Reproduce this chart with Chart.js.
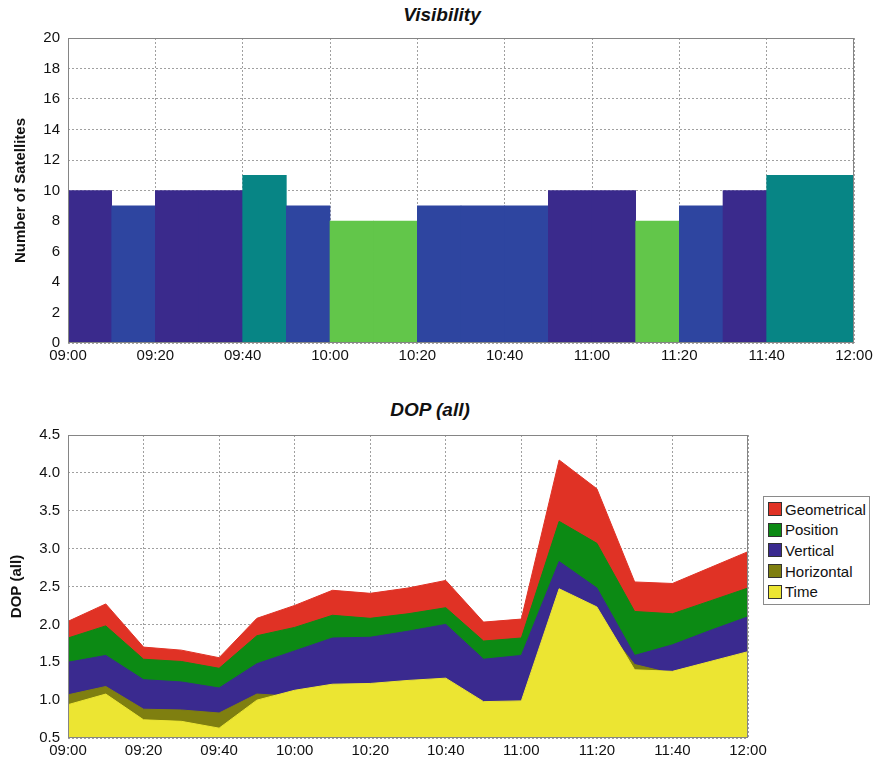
<!DOCTYPE html>
<html>
<head>
<meta charset="utf-8">
<script src="https://cdn.jsdelivr.net/npm/chart.js@4.4.0/dist/chart.umd.min.js"></script>
<style>
  body { margin: 0; background: #fff; font-family: "Liberation Sans", Arial, sans-serif; }
  #wrap { position: relative; width: 877px; height: 765px; }
  .box { position: absolute; left: 0; width: 877px; }
  .title { position: absolute; width: 400px; text-align: center; font-weight: bold; font-style: italic; font-size: 19px; line-height: 22px; color: #111; }
  #legend { position: absolute; left: 763px; top: 496px; width: 107px; height: 109px; border: 1px solid #8a8a8a; background: #fff; padding-top: 2px; box-sizing: border-box; }
  .item { display: flex; align-items: center; height: 20.6px; font-size: 15px; color: #111; padding-left: 4px; }
  .sw { width: 12px; height: 12px; border: 1px solid #333; margin-right: 3px; }
</style>
</head>
<body>
<div id="wrap">
  <div class="title" style="left:242px; top:4px;">Visibility</div>
  <div class="box" style="top:0; height:370px;"><canvas id="visChart"></canvas></div>
  <div class="title" style="left:230px; top:399px;">DOP (all)</div>
  <div class="box" style="top:380px; height:385px;"><canvas id="dopChart"></canvas></div>
  <div id="legend"></div>
</div>
<script>
// visibility: satellites seen in each 10 minute slot
const visSlots = ['09:00','09:10','09:20','09:30','09:40','09:50','10:00','10:10','10:20','10:30','10:40','10:50','11:00','11:10','11:20','11:30','11:40','11:50'];
const satellites = [10, 9, 10, 10, 11, 9, 8, 8, 9, 9, 9, 10, 10, 8, 9, 10, 11, 11];

// DOP values every 10 minutes
const dopTimes = ['09:00','09:10','09:20','09:30','09:40','09:50','10:00','10:10','10:20','10:30','10:40','10:50','11:00','11:10','11:20','11:30','11:40','11:50','12:00'];
const geometrical = [2.04, 2.27, 1.70, 1.66, 1.56, 2.08, 2.25, 2.45, 2.41, 2.48, 2.58, 2.03, 2.07, 4.17, 3.79, 2.56, 2.54, 2.75, 2.96];
const position    = [1.82, 1.98, 1.54, 1.51, 1.42, 1.85, 1.96, 2.12, 2.08, 2.14, 2.22, 1.78, 1.82, 3.36, 3.07, 2.17, 2.14, 2.31, 2.48];
const vertical    = [1.50, 1.59, 1.27, 1.24, 1.16, 1.48, 1.65, 1.82, 1.83, 1.91, 2.00, 1.54, 1.59, 2.83, 2.48, 1.59, 1.73, 1.92, 2.10];
const horizontal  = [1.07, 1.18, 0.88, 0.87, 0.83, 1.08, 1.05, 1.15, 1.17, 1.20, 1.22, 0.95, 0.96, 2.20, 2.10, 1.47, 1.35, 1.45, 1.55];
const timeDop     = [0.94, 1.08, 0.74, 0.72, 0.63, 1.00, 1.13, 1.21, 1.22, 1.26, 1.29, 0.98, 0.99, 2.47, 2.23, 1.40, 1.38, 1.51, 1.64];

const tickLabels = ['09:00','09:20','09:40','10:00','10:20','10:40','11:00','11:20','11:40','12:00'];

const satColors = { 8: '#62c64a', 9: '#2e45a0', 10: '#3a2a8c', 11: '#078585' };

Chart.defaults.font.family = '"Liberation Sans", Arial, sans-serif';
Chart.defaults.color = '#111';

function minutes(t) {
  const [h, m] = t.split(':').map(Number);
  return (h - 9) * 60 + m;
}

// gray box around the plot area
const frame = {
  id: 'frame',
  afterDatasetsDraw(chart) {
    const { ctx, chartArea: a } = chart;
    ctx.save();
    ctx.strokeStyle = '#858585';
    ctx.lineWidth = 1;
    ctx.strokeRect(Math.round(a.left) + 0.5, Math.round(a.top) + 0.5, Math.round(a.width) - 1, Math.round(a.height) - 1);
    ctx.restore();
  }
};

function xAxis() {
  return {
    type: 'linear', min: 0, max: 180, offset: false,
    afterFit: s => { s.height = 27; },
    grid: { color: '#a0a0a0', drawTicks: false, offset: false },
    border: { display: false, dash: [2, 2] },
    ticks: { stepSize: 20, autoSkip: false, maxRotation: 0, padding: 4, font: { size: 15 },
      callback: v => tickLabels[v / 20] }
  };
}

new Chart(document.getElementById('visChart'), {
  type: 'bar',
  data: {
    datasets: [{
      label: 'Satellites',
      data: visSlots.map((t, i) => ({ x: minutes(t) + 5, y: satellites[i] })),
      backgroundColor: satellites.map(v => satColors[v]),
      borderWidth: 0,
      barPercentage: 1,
      categoryPercentage: 1
    }]
  },
  options: {
    responsive: true,
    maintainAspectRatio: false,
    animation: false,
    layout: { padding: { top: 38, right: 23, bottom: 0, left: 0 } },
    scales: {
      x: xAxis(),
      y: {
        min: 0, max: 20,
        afterFit: s => { s.width = 68; },
        grid: { color: '#a0a0a0', drawTicks: false },
        border: { display: false, dash: [2, 2] },
        ticks: { stepSize: 2, padding: 8, font: { size: 15 } },
        title: { display: true, text: 'Number of Satellites', font: { size: 15, weight: 'bold' }, padding: { top: 12, bottom: 0 } }
      }
    },
    plugins: { legend: { display: false }, tooltip: { enabled: false } }
  },
  plugins: [frame]
});

const dopSeries = [
  { label: 'Time', values: timeDop, color: '#ece532' },
  { label: 'Horizontal', values: horizontal, color: '#7f7f10' },
  { label: 'Vertical', values: vertical, color: '#3a2a8f' },
  { label: 'Position', values: position, color: '#0c8a14' },
  { label: 'Geometrical', values: geometrical, color: '#e03225' }
];

const dopChart = new Chart(document.getElementById('dopChart'), {
  type: 'line',
  data: {
    datasets: dopSeries.map(s => ({
      label: s.label,
      data: dopTimes.map((t, i) => ({ x: minutes(t), y: s.values[i] })),
      backgroundColor: s.color,
      borderColor: s.color,
      borderWidth: 1,
      pointRadius: 0,
      tension: 0,
      fill: 'start'
    }))
  },
  options: {
    responsive: true,
    maintainAspectRatio: false,
    animation: false,
    layout: { padding: { top: 55, right: 129, bottom: 0, left: 0 } },
    scales: {
      x: xAxis(),
      y: {
        min: 0.5, max: 4.5,
        afterFit: s => { s.width = 68; },
        grid: { color: '#a0a0a0', drawTicks: false },
        border: { display: false, dash: [2, 2] },
        ticks: { stepSize: 0.5, padding: 8, font: { size: 15 }, callback: v => v.toFixed(1) },
        title: { display: true, text: 'DOP (all)', font: { size: 15, weight: 'bold' }, padding: { top: 8, bottom: 0 } }
      }
    },
    plugins: { legend: { display: false }, tooltip: { enabled: false } }
  },
  plugins: [frame]
});

// legend box, top entry is the back-most area
const legendEl = document.getElementById('legend');
dopChart.data.datasets.slice().reverse().forEach(ds => {
  const row = document.createElement('div');
  row.className = 'item';
  row.innerHTML = '<span class="sw" style="background:' + ds.backgroundColor + '"></span>' + ds.label;
  legendEl.appendChild(row);
});
</script>
</body>
</html>
